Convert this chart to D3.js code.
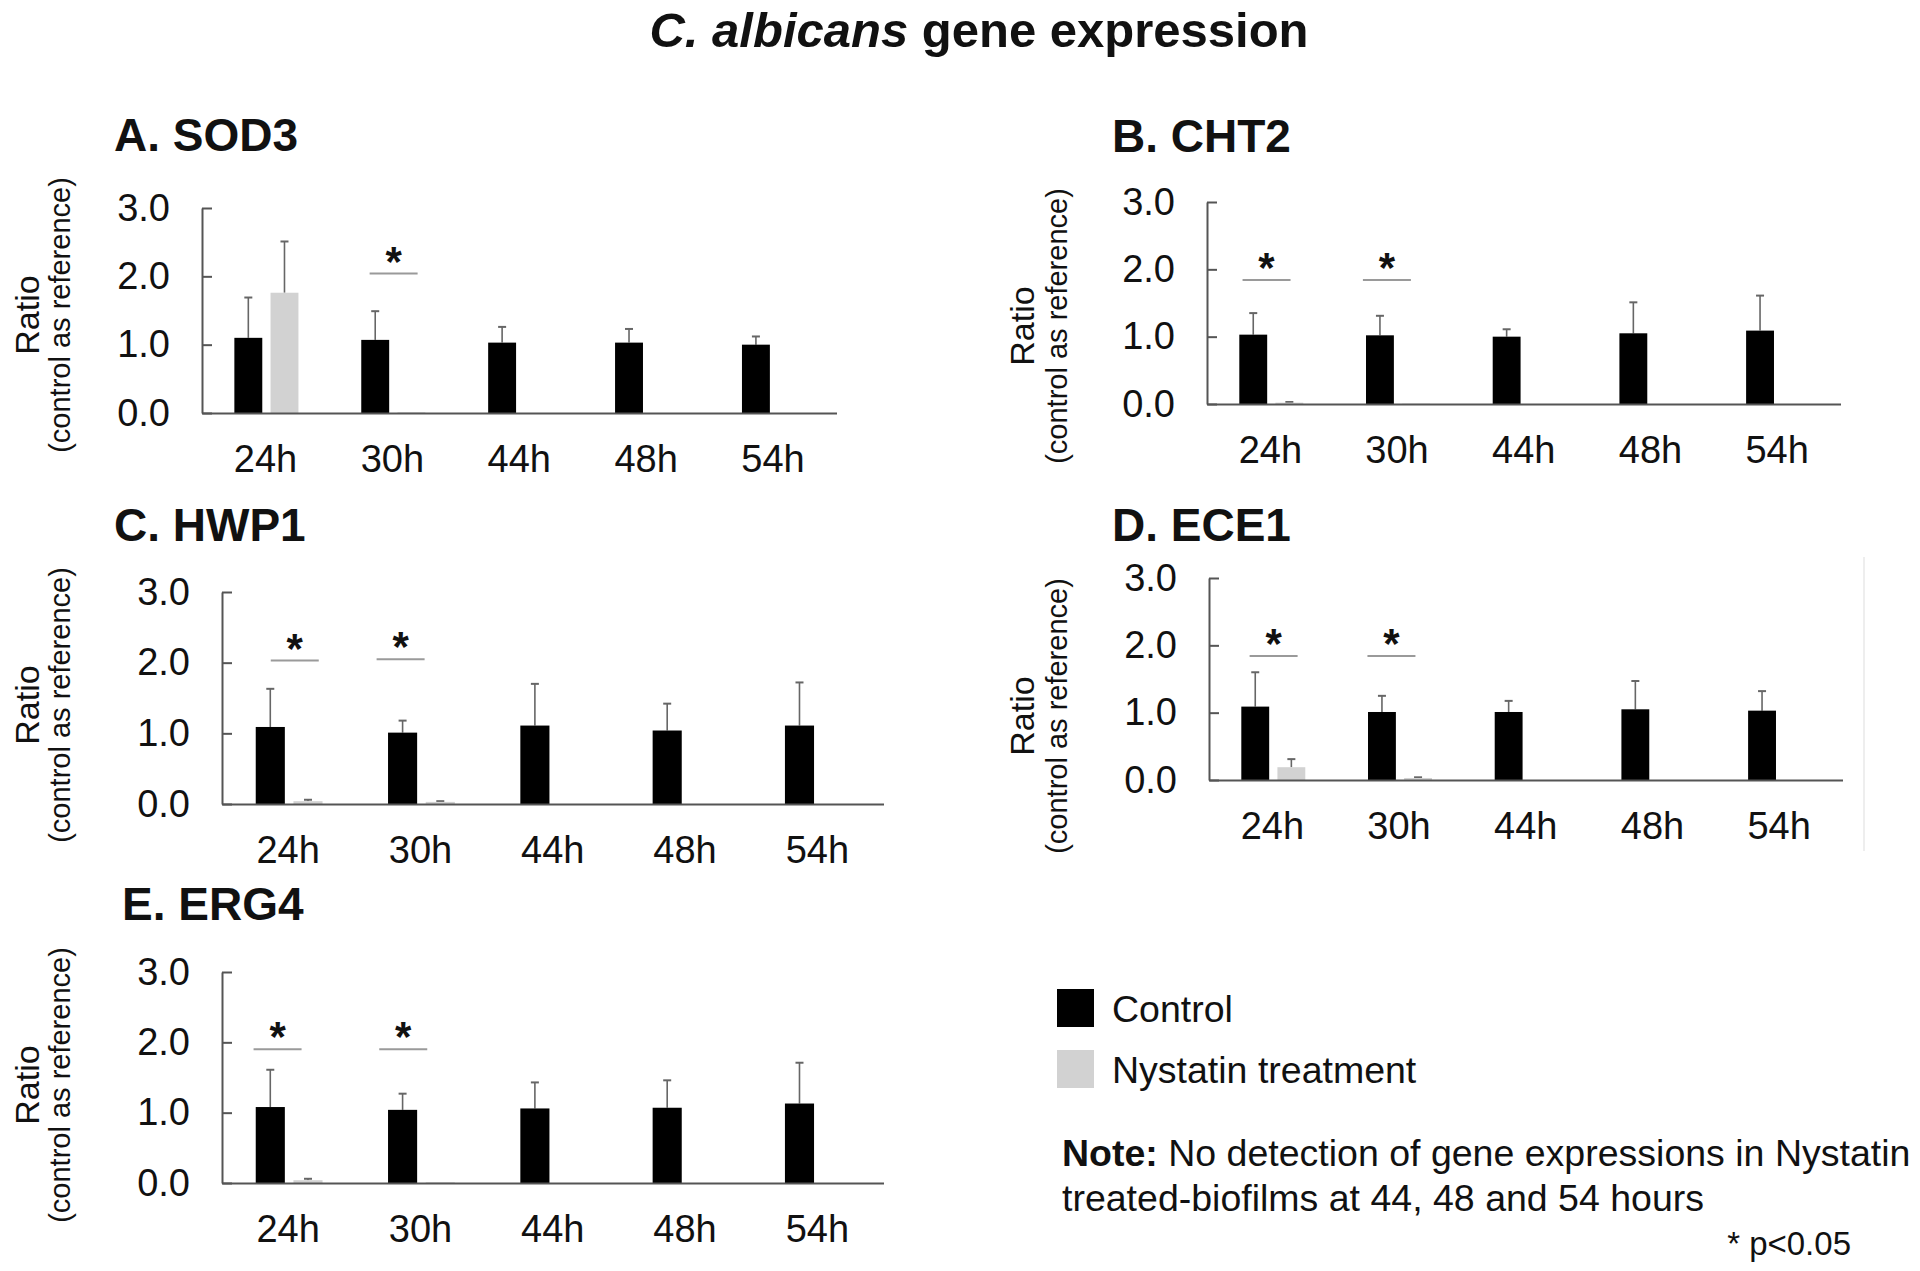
<!DOCTYPE html>
<html><head><meta charset="utf-8">
<script src="https://cdn.jsdelivr.net/npm/d3@7"></script>
<style>
html,body{margin:0;padding:0;background:#fff;}
text{font-family:"Liberation Sans",Arial,Helvetica,sans-serif;}
</style></head>
<body><svg id="chart" width="1920" height="1271"></svg>
<script>
// ---------------- DATA ----------------
const categories = ["24h", "30h", "44h", "48h", "54h"];
const seriesNames = ["Control", "Nystatin treatment"];
const yTicks = [0, 1, 2, 3];
const panelTitles = ["A. SOD3", "B. CHT2", "C. HWP1", "D. ECE1", "E. ERG4"];

const sod3Control = [1.10, 1.07, 1.03, 1.03, 1.00];
const sod3ControlErr = [0.59, 0.42, 0.23, 0.20, 0.12];
const sod3Nystatin = [1.76, 0.01, null, null, null];
const sod3NystatinErr = [0.75, 0.00, null, null, null];
const sod3Sig = [["30h", 2.04]];

const cht2Control = [1.03, 1.02, 1.00, 1.05, 1.09];
const cht2ControlErr = [0.32, 0.29, 0.11, 0.46, 0.52];
const cht2Nystatin = [0.02, 0.005, null, null, null];
const cht2NystatinErr = [0.01, 0.00, null, null, null];
const cht2Sig = [["24h", 1.84], ["30h", 1.84]];

const hwp1Control = [1.09, 1.01, 1.11, 1.04, 1.11];
const hwp1ControlErr = [0.54, 0.17, 0.59, 0.38, 0.61];
const hwp1Nystatin = [0.04, 0.03, null, null, null];
const hwp1NystatinErr = [0.02, 0.01, null, null, null];
const hwp1Sig = [["24h", 2.03], ["30h", 2.05]];

const ece1Control = [1.09, 1.01, 1.01, 1.05, 1.03];
const ece1ControlErr = [0.51, 0.24, 0.165, 0.42, 0.29];
const ece1Nystatin = [0.19, 0.03, null, null, null];
const ece1NystatinErr = [0.12, 0.01, null, null, null];
const ece1Sig = [["24h", 1.84], ["30h", 1.84]];

const erg4Control = [1.08, 1.04, 1.06, 1.07, 1.13];
const erg4ControlErr = [0.53, 0.23, 0.37, 0.39, 0.58];
const erg4Nystatin = [0.04, 0.01, null, null, null];
const erg4NystatinErr = [0.02, 0.00, null, null, null];
const erg4Sig = [["24h", 1.90], ["30h", 1.90]];

// ---------------- LAYOUT (positions only) ----------------
const panelData = [
  {c: sod3Control, ce: sod3ControlErr, n: sod3Nystatin, ne: sod3NystatinErr, sig: sod3Sig},
  {c: cht2Control, ce: cht2ControlErr, n: cht2Nystatin, ne: cht2NystatinErr, sig: cht2Sig},
  {c: hwp1Control, ce: hwp1ControlErr, n: hwp1Nystatin, ne: hwp1NystatinErr, sig: hwp1Sig},
  {c: ece1Control, ce: ece1ControlErr, n: ece1Nystatin, ne: ece1NystatinErr, sig: ece1Sig},
  {c: erg4Control, ce: erg4ControlErr, n: erg4Nystatin, ne: erg4NystatinErr, sig: erg4Sig}
];
const layout = [
  {x0: 202, x1: 836.5, yTop: 208, yBot: 413, tx: 114, ty: 151, rx: 39, px: 70, ly: 315, sigFrac: [0.51]},
  {x0: 1207, x1: 1840.5, yTop: 202, yBot: 404, tx: 1112, ty: 152, rx: 1034, px: 1067, ly: 326, sigFrac: [0.47, 0.42]},
  {x0: 222, x1: 883.5, yTop: 592, yBot: 804, tx: 114, ty: 541, rx: 39, px: 70, ly: 705, sigFrac: [0.55, 0.35]},
  {x0: 1209, x1: 1842.5, yTop: 578, yBot: 780, tx: 1112, ty: 541, rx: 1034, px: 1067, ly: 716, sigFrac: [0.51, 0.44]},
  {x0: 222, x1: 883.5, yTop: 972, yBot: 1183, tx: 122, ty: 920, rx: 39, px: 70, ly: 1085, sigFrac: [0.42, 0.37]}
];
const colors = {control: "#000000", nystatin: "#d2d2d2", axis: "#555555", err: "#666666", sig: "#9a9a9a"};

const svg = d3.select("#chart");

// main title
const mt = svg.append("text").attr("x", 979).attr("y", 47).attr("text-anchor", "middle")
  .attr("font-size", 49).attr("font-weight", "bold").attr("fill", "#111");
mt.append("tspan").attr("font-style", "italic").text("C. albicans");
mt.append("tspan").text(" gene expression");

// faint frame remnant near panel D
svg.append("line").attr("x1", 1864).attr("x2", 1864).attr("y1", 557).attr("y2", 851)
  .attr("stroke", "#eeeeee").attr("stroke-width", 2);

panelData.forEach((d, i) => {
  const L = layout[i];
  const g = svg.append("g");
  const x = d3.scaleBand().domain(categories).range([L.x0, L.x1]);
  const y = d3.scaleLinear().domain([0, 3]).range([L.yBot, L.yTop]);
  const bw = x.bandwidth();
  const barW = bw * 0.22;
  const cPos = 0.365, nPos = 0.65;

  // title
  g.append("text").attr("x", L.tx).attr("y", L.ty).attr("font-size", 46).attr("font-weight", "bold")
    .attr("fill", "#111").text(panelTitles[i]);

  // y label
  g.append("text").attr("transform", `translate(${L.rx},${L.ly}) rotate(-90)`).attr("text-anchor", "middle")
    .attr("font-size", 34).attr("fill", "#111").text("Ratio");
  g.append("text").attr("transform", `translate(${L.px},${L.ly}) rotate(-90)`).attr("text-anchor", "middle")
    .attr("font-size", 29).attr("fill", "#111").text("(control as reference)");

  const rows = categories.map((cat, k) => ({cat, c: d.c[k], ce: d.ce[k], n: d.n[k], ne: d.ne[k]}));
  const drawErr = (cx, v, e) => {
    if (v == null || e == null || e <= 0) return;
    g.append("line").attr("x1", cx).attr("x2", cx).attr("y1", y(v)).attr("y2", y(v + e))
      .attr("stroke", colors.err).attr("stroke-width", 1.6);
    g.append("line").attr("x1", cx - 4).attr("x2", cx + 4).attr("y1", y(v + e)).attr("y2", y(v + e))
      .attr("stroke", colors.err).attr("stroke-width", 2);
  };
  rows.forEach(r => {
    drawErr(x(r.cat) + bw * cPos, r.c, r.ce);
    drawErr(x(r.cat) + bw * nPos, r.n, r.ne);
  });
  g.selectAll(".cbar").data(rows).enter().append("rect")
    .attr("x", r => x(r.cat) + bw * cPos - barW / 2).attr("width", barW)
    .attr("y", r => y(r.c)).attr("height", r => y(0) - y(r.c)).attr("fill", colors.control);
  g.selectAll(".nbar").data(rows.filter(r => r.n != null)).enter().append("rect")
    .attr("x", r => x(r.cat) + bw * nPos - barW / 2).attr("width", barW)
    .attr("y", r => y(r.n)).attr("height", r => Math.max(0, y(0) - y(r.n))).attr("fill", colors.nystatin);

  // y axis
  const ya = g.append("g").attr("transform", `translate(${L.x0},0)`)
    .call(d3.axisLeft(y).tickValues(yTicks).tickFormat(d3.format(".1f")).tickSizeInner(-10).tickSizeOuter(0).tickPadding(32));
  ya.select(".domain").attr("stroke", colors.axis).attr("stroke-width", 2);
  ya.selectAll(".tick line").attr("stroke", colors.axis).attr("stroke-width", 2);
  ya.selectAll(".tick text").attr("font-size", 38).attr("fill", "#111")
    .attr("font-family", "'Liberation Sans',Arial,sans-serif");

  // x axis
  const xa = g.append("g").attr("transform", `translate(0,${L.yBot})`)
    .call(d3.axisBottom(x).tickSize(0).tickSizeOuter(0).tickPadding(32));
  xa.select(".domain").attr("stroke", colors.axis).attr("stroke-width", 2);
  xa.selectAll(".tick text").attr("font-size", 38).attr("fill", "#111")
    .attr("font-family", "'Liberation Sans',Arial,sans-serif");

  // significance
  d.sig.forEach((s, k) => {
    const cx = x(s[0]) + bw * L.sigFrac[k];
    g.append("line").attr("x1", cx - 24).attr("x2", cx + 24).attr("y1", y(s[1])).attr("y2", y(s[1]))
      .attr("stroke", colors.sig).attr("stroke-width", 2);
    g.append("text").attr("x", cx).attr("y", y(s[1]) + 2).attr("text-anchor", "middle")
      .attr("font-size", 42).attr("font-weight", "bold").attr("fill", "#111").text("*");
  });
});

// legend
const legend = svg.append("g");
const legendColors = [colors.control, colors.nystatin];
seriesNames.forEach((nm, k) => {
  legend.append("rect").attr("x", 1057).attr("y", 989 + k * 61).attr("width", 37).attr("height", 38)
    .attr("fill", legendColors[k]);
  legend.append("text").attr("x", 1112).attr("y", 1022 + k * 61).attr("font-size", 37.5).attr("fill", "#111").text(nm);
});
const note1 = svg.append("text").attr("x", 1062).attr("y", 1166).attr("font-size", 37.5).attr("fill", "#111");
note1.append("tspan").attr("font-weight", "bold").text("Note:");
note1.append("tspan").text(" No detection of gene expressions in Nystatin");
svg.append("text").attr("x", 1062).attr("y", 1211).attr("font-size", 37.5).attr("fill", "#111")
  .text("treated-biofilms at 44, 48 and 54 hours");
svg.append("text").attr("x", 1851).attr("y", 1255).attr("text-anchor", "end").attr("font-size", 33).attr("fill", "#111")
  .text("* p<0.05");
</script>
</body></html>
